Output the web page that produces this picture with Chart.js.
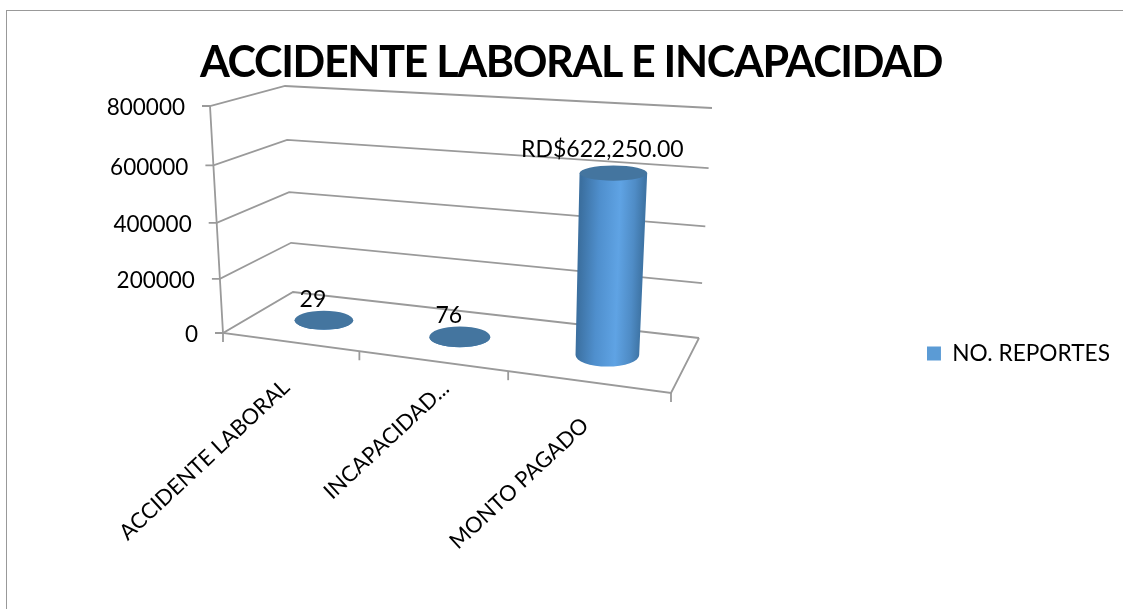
<!DOCTYPE html>
<html>
<head>
<meta charset="utf-8">
<title>Accidente laboral e incapacidad</title>
<script src="https://cdn.jsdelivr.net/npm/chart.js@4"></script>
<style>
html, body { margin: 0; padding: 0; background: #fff; }
#frame { position: absolute; left: 6px; top: 10px; width: 1117px; height: 599px; border-left: 1px solid #999; border-top: 1px solid #999; box-sizing: border-box; }
#myChart { position: absolute; left: 0; top: 0; }
</style>
</head>
<body>
<div id="frame"></div>
<canvas id="myChart" width="1123" height="609"></canvas>
<script>
var categories = ['ACCIDENTE LABORAL', 'INCAPACIDAD...', 'MONTO PAGADO'];
var seriesName = 'NO. REPORTES';
var seriesValues = [29, 76, 622250];
var valueLabels = ['29', '76', 'RD$622,250.00'];
var axisMax = 800000;
var axisStep = 200000;

var FONT = 'Lato, "Noto Sans", sans-serif';
var GRID = '#9a9a9a';

// screen corners of the 3d box
var floorQuad = [[223, 333], [671, 393], [699, 338], [293, 292]];
var ceilQuad = [[210, 106], [695, 140], [712, 108], [285, 86]];
var labelNudge = [[-3.5, 42], [13.5, 24], [-2.5, 40]];

function makeHomography(q) {
    var x0 = q[0][0], y0 = q[0][1], x1 = q[1][0], y1 = q[1][1];
    var x2 = q[2][0], y2 = q[2][1], x3 = q[3][0], y3 = q[3][1];
    var dx1 = x1 - x2, dx2 = x3 - x2, sx = x0 - x1 + x2 - x3;
    var dy1 = y1 - y2, dy2 = y3 - y2, sy = y0 - y1 + y2 - y3;
    var det = dx1 * dy2 - dx2 * dy1;
    var g = (sx * dy2 - dx2 * sy) / det;
    var h = (dx1 * sy - sx * dy1) / det;
    var a = x1 - x0 + g * x1, b = x3 - x0 + h * x3;
    var d = y1 - y0 + g * y1, e = y3 - y0 + h * y3;
    return function (u, v) {
        var w = g * u + h * v + 1;
        return [(a * u + b * v + x0) / w, (d * u + e * v + y0) / w];
    };
}
var floorAt = makeHomography(floorQuad);
var ceilAt = makeHomography(ceilQuad);

// u across the categories, d into the depth, t up the value axis
function project(u, d, t) {
    var k = t - 0.06 * t * (1 - t);
    var w = u + 0.04 * u * (1 - u);
    var a = floorAt(w, d), b = ceilAt(w, d);
    return [a[0] + (b[0] - a[0]) * k, a[1] + (b[1] - a[1]) * k];
}
// centre of a cylinder section, nudged to sit where the original does
function cylinderAt(u, t) {
    var p = project(u, 0.5, t);
    return [p[0] + 4 * t, p[1] + 1];
}
function uOf(chart, px) {
    return (px - chart.chartArea.left) / chart.chartArea.width;
}
function tOf(chart, py) {
    return (chart.chartArea.bottom - py) / chart.chartArea.height;
}
function line(ctx, pts) {
    ctx.beginPath();
    ctx.moveTo(pts[0][0], pts[0][1]);
    for (var i = 1; i < pts.length; i++) ctx.lineTo(pts[i][0], pts[i][1]);
    ctx.stroke();
}

class CylinderController extends Chart.BarController {
    draw() {
        var chart = this.chart, ctx = chart.ctx;
        this.getMeta().data.forEach(function (bar) {
            var u = uOf(chart, bar.x), t = tOf(chart, bar.y);
            var du = bar.width / 2 / chart.chartArea.width;
            var dd = 0.22;
            // half the local foreshortening, the rest from the mean floor width
            var meanRx = du * 427;
            function radii(tt) {
                var local = Math.abs(project(u + du, 0.5, tt)[0] - project(u - du, 0.5, tt)[0]) / 2;
                return [
                    (local + meanRx) / 2,
                    Math.abs(project(u, 0.5 + dd, tt)[1] - project(u, 0.5 - dd, tt)[1]) / 2
                ];
            }
            var bottom = cylinderAt(u, 0), top = cylinderAt(u, t);
            var rB = radii(0), rT = radii(t);
            var rxB = rB[0], ryB = rB[1], rxT = rT[0], ryT = rT[1];

            var lean = (top[0] - bottom[0]) / Math.max(1, bottom[1] - top[1]);
            var midX = (top[0] + bottom[0]) / 2, midY = (top[1] + bottom[1]) / 2;
            var grad = ctx.createLinearGradient(midX - rxB, midY - rxB * lean, midX + rxB, midY + rxB * lean);
            grad.addColorStop(0, '#3b6f9f');
            grad.addColorStop(0.3, '#4f8fcd');
            grad.addColorStop(0.62, '#5fa3e4');
            grad.addColorStop(0.85, '#4f8cc6');
            grad.addColorStop(1, '#3f75a6');

            ctx.save();
            ctx.fillStyle = grad;
            ctx.beginPath();
            ctx.moveTo(top[0] - rxT, top[1]);
            ctx.lineTo(top[0] + rxT, top[1]);
            ctx.lineTo(bottom[0] + rxB, bottom[1]);
            ctx.ellipse(bottom[0], bottom[1], rxB, ryB, 0, 0, Math.PI);
            ctx.closePath();
            ctx.fill();
            ctx.fillStyle = '#44759f';
            ctx.beginPath();
            ctx.ellipse(top[0], top[1], rxT, ryT, 0, 0, Math.PI * 2);
            ctx.fill();
            ctx.restore();
        });
    }
}
CylinderController.id = 'cylinder';
CylinderController.defaults = Chart.BarController.defaults;
CylinderController.overrides = Chart.BarController.overrides;
Chart.register(CylinderController);

var box3d = {
    id: 'box3d',
    afterInit: function (chart) {
        // Lato runs wider than the original face, pull the title in
        var block = chart.titleBlock, drawTitle = block.draw;
        block.draw = function () {
            chart.ctx.letterSpacing = '-1.33px';
            drawTitle.call(block);
            chart.ctx.letterSpacing = '0px';
        };
    },
    afterLayout: function (chart) {
        chart.legend.top += 56;
        chart.legend.bottom += 56;
    },
    beforeDatasetsDraw: function (chart) {
        var ctx = chart.ctx, y = chart.scales.y, x = chart.scales.x;
        ctx.save();
        ctx.strokeStyle = GRID;
        ctx.lineWidth = 1.8;
        y.ticks.forEach(function (tick) {
            var t = tOf(chart, y.getPixelForValue(tick.value));
            var front = project(0, 0, t);
            line(ctx, [[front[0] - 8, front[1]], front, project(0, 1, t), project(1, 1, t)]);
        });
        line(ctx, [project(0, 0, 1), project(0, 0, 0), project(1, 0, 0), project(1, 1, 0)]);
        for (var i = 0; i <= categories.length; i++) {
            var p = project(uOf(chart, x.getPixelForValue(i - 0.5)), 0, 0);
            line(ctx, [p, [p[0], p[1] + 9]]);
        }
        // value axis labels follow the leaning front edge
        ctx.fillStyle = '#000';
        ctx.font = '22.5px ' + FONT;
        ctx.textAlign = 'right';
        ctx.textBaseline = 'middle';
        y.ticks.forEach(function (tick) {
            var f = project(0, 0, tOf(chart, y.getPixelForValue(tick.value)));
            ctx.fillText(tick.label, f[0] - 25, f[1] + 2);
        });
        ctx.restore();
    },
    afterDatasetsDraw: function (chart) {
        var ctx = chart.ctx, x = chart.scales.x;
        ctx.save();
        ctx.fillStyle = '#000';
        ctx.textBaseline = 'middle';
        // value labels above each cylinder
        ctx.font = '23px ' + FONT;
        ctx.textAlign = 'center';
        chart.getDatasetMeta(0).data.forEach(function (bar, i) {
            var t = tOf(chart, bar.y);
            var top = cylinderAt(uOf(chart, bar.x), t);
            ctx.fillText(valueLabels[i], top[0] - 11, top[1] - 21 - 3 * t);
        });
        // slanted category labels below the front edge
        ctx.font = '21.8px ' + FONT;
        ctx.textAlign = 'right';
        categories.forEach(function (name, i) {
            var p = project(uOf(chart, x.getPixelForValue(i)), 0, 0);
            ctx.save();
            ctx.translate(p[0] + labelNudge[i][0], p[1] + labelNudge[i][1]);
            ctx.rotate(-43 * Math.PI / 180);
            ctx.fillText(name, 0, 0);
            ctx.restore();
        });
        ctx.restore();
    }
};

var ctx = document.getElementById('myChart').getContext('2d');
var myChart = new Chart(ctx, {
    type: 'cylinder',
    data: {
        labels: categories,
        datasets: [
            {
                label: seriesName,
                data: seriesValues,
                backgroundColor: '#5b9bd5',
                barPercentage: 0.43,
                categoryPercentage: 1,
                clip: false
            }
        ]
    },
    plugins: [box3d],
    options: {
        responsive: false,
        animation: false,
        layout: {
            autoPadding: false,
            padding: { left: 22, right: 3, top: 0, bottom: 14 }
        },
        plugins: {
            title: {
                display: true,
                text: 'ACCIDENTE LABORAL E INCAPACIDAD',
                color: '#000',
                font: { family: FONT, size: 43, weight: 'bold' },
                padding: { top: 37, bottom: 20 }
            },
            legend: {
                display: true,
                position: 'right',
                labels: {
                    boxWidth: 14,
                    boxHeight: 14,
                    padding: 0,
                    color: '#000',
                    font: { family: FONT, size: 22.7 }
                }
            },
            tooltip: { enabled: false }
        },
        scales: {
            x: {
                grid: { display: false },
                border: { display: false },
                ticks: { display: false },
                afterFit: function (scale) { scale.height = 259; }
            },
            y: {
                min: 0,
                max: axisMax,
                grid: { display: false },
                border: { display: false },
                afterFit: function (scale) { scale.width = 183; },
                ticks: {
                    stepSize: axisStep,
                    display: false,
                    callback: function (v) { return String(v); }
                }
            }
        }
    }
});
</script>
</body>
</html>
